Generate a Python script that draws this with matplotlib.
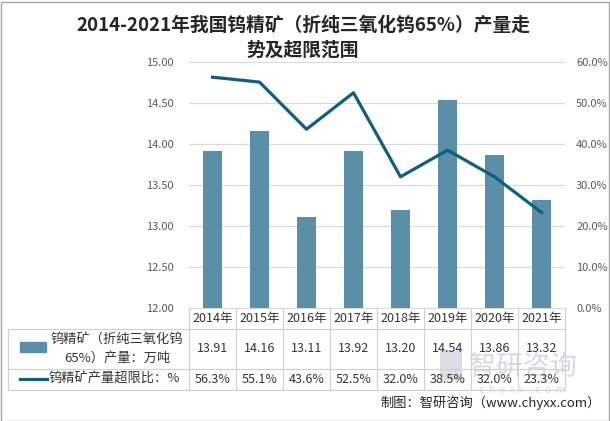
import numpy as np
import matplotlib.pyplot as plt
from matplotlib.lines import Line2D
from matplotlib.patches import Rectangle, PathPatch
from matplotlib.textpath import TextPath
from matplotlib.font_manager import FontProperties
from matplotlib.transforms import Affine2D
import matplotlib.ticker as mticker

plt.rcParams['font.family'] = ['Noto Sans CJK SC', 'DejaVu Sans']

# data
years = ['2014年', '2015年', '2016年', '2017年', '2018年', '2019年', '2020年', '2021年']
output = [13.91, 14.16, 13.11, 13.92, 13.20, 14.54, 13.86, 13.32]
ratio = [56.3, 55.1, 43.6, 52.5, 32.0, 38.5, 32.0, 23.3]
bar_label = '钨精矿（折纯三氧化钨\n65%）产量：万吨'
line_label = '钨精矿产量超限比：%'

W, H = 610, 421
bar_color = '#5B8FA8'
line_color = '#0F5F7D'
grid_color = '#D9D9D9'
tick_color = '#595959'


def px(x, y):
    # pixel coords (top-left origin) -> figure fraction
    return x / W, 1 - y / H


fig = plt.figure(figsize=(W / 100, H / 100), dpi=100)
pix = Affine2D().scale(1 / W, 1 / H) + fig.transFigure  # pixel (bottom-left) -> display

x0, x1, ytop, ybot = 189, 565, 62, 308
ax = fig.add_axes([x0 / W, 1 - ybot / H, (x1 - x0) / W, (ybot - ytop) / H])
xs = np.arange(len(years))
ax.bar(xs, np.array(output) - 12, bottom=12, width=0.4, color=bar_color, zorder=3)
ax.set_xlim(-0.5, len(years) - 0.5)
ax.set_ylim(12, 15)
ax.set_yticks(np.arange(12, 15.01, 0.5))
ax.yaxis.set_major_formatter(mticker.FormatStrFormatter('%.2f'))
ax.grid(axis='y', color=grid_color, linewidth=0.8, zorder=0)
ax.set_xticks([])
for s in ['top', 'right', 'left']:
    ax.spines[s].set_visible(False)
ax.spines['bottom'].set_color(grid_color)
ax.tick_params(axis='y', length=0, labelsize=8, labelcolor=tick_color, pad=11)

ax2 = ax.twinx()
ax2.plot(xs, ratio, color=line_color, linewidth=2.3, zorder=4)
ax2.set_ylim(0, 60)
ax2.set_yticks(np.arange(0, 60.1, 10))
ax2.yaxis.set_major_formatter(mticker.FormatStrFormatter('%.1f%%'))
for s in ax2.spines.values():
    s.set_visible(False)
ax2.tick_params(axis='y', length=0, labelsize=8, labelcolor=tick_color, pad=8)

# title
fig.text(*px(303, 25), '2014-2021年我国钨精矿（折纯三氧化钨65%）产量走',
         ha='center', va='center', fontsize=13.5, fontweight='bold', color='#262626')
fig.text(*px(303, 50), '势及超限范围',
         ha='center', va='center', fontsize=13.5, fontweight='bold', color='#262626')

# watermark, drawn as shapes like the logo image in the original
wm_font = FontProperties(family='Noto Sans CJK SC')
wm_color = '#B9C1CC'
for s, size, (wx, wy) in [('智研咨询', 27, (470, H - 377)),
                          ('c  h  y  x  x  .  c  o  m', 10, (480, H - 395))]:
    tp = TextPath((0, 0), s, size=size, prop=wm_font)
    bb = tp.get_extents()
    path = Affine2D().translate(wx - bb.x0, wy - bb.y0).transform_path(tp)
    fig.add_artist(PathPatch(path, facecolor=wm_color, edgecolor='none', alpha=0.6,
                             transform=pix, zorder=0))
fig.add_artist(Rectangle((440, H - 380), 22, 30, facecolor=wm_color, alpha=0.5,
                         edgecolor='none', transform=pix))

# data table
tc = '#D0D0D0'
col_w = (x1 - x0) / len(years)
r0, r1, r2, r3 = 308, 329, 369, 390
lx = 8


def hline(xa, xb, y):
    fig.add_artist(Line2D([xa / W, xb / W], [1 - y / H, 1 - y / H], color=tc, linewidth=0.8))


def vline(x, ya, yb):
    fig.add_artist(Line2D([x / W, x / W], [1 - ya / H, 1 - yb / H], color=tc, linewidth=0.8))


hline(lx, x1, r1)
hline(lx, x1, r2)
hline(lx, x1, r3)
vline(lx, r1, r3)
for i in range(len(years) + 1):
    vline(x0 + i * col_w, r0, r3)

for i, yr in enumerate(years):
    cx = x0 + (i + 0.5) * col_w
    fig.text(*px(cx, (r0 + r1) / 2), yr, ha='center', va='center', fontsize=9, color='#333333')
    fig.text(*px(cx, (r1 + r2) / 2), f'{output[i]:.2f}', ha='center', va='center',
             fontsize=9, color='#333333')
    fig.text(*px(cx, (r2 + r3) / 2), f'{ratio[i]:.1f}%', ha='center', va='center',
             fontsize=9, color='#333333')

# legend keys
fig.add_artist(Rectangle(px(20, 352), 26 / W, 10 / H, color=bar_color, transform=fig.transFigure))
fig.text(*px(117, (r1 + r2) / 2), bar_label, ha='center', va='center', fontsize=9.5,
         color='#333333', linespacing=1.45)
fig.add_artist(Line2D([20 / W, 47 / W], [1 - 379 / H, 1 - 379 / H], color=line_color,
                      linewidth=2.3))
fig.text(*px(49, 379), line_label, ha='left', va='center', fontsize=9.5, color='#333333')

# source
fig.text(*px(601, 403), '制图：智研咨询（www.chyxx.com）', ha='right', va='center',
         fontsize=9.5, color='#262626')

# outer frame
fig.add_artist(Rectangle((0.5 / W, 0.5 / H), 1 - 2 / W, 1 - 2 / H, fill=False,
                         edgecolor='#A6A6A6', linewidth=1, transform=fig.transFigure))

fig.savefig('out.png', dpi=100)
